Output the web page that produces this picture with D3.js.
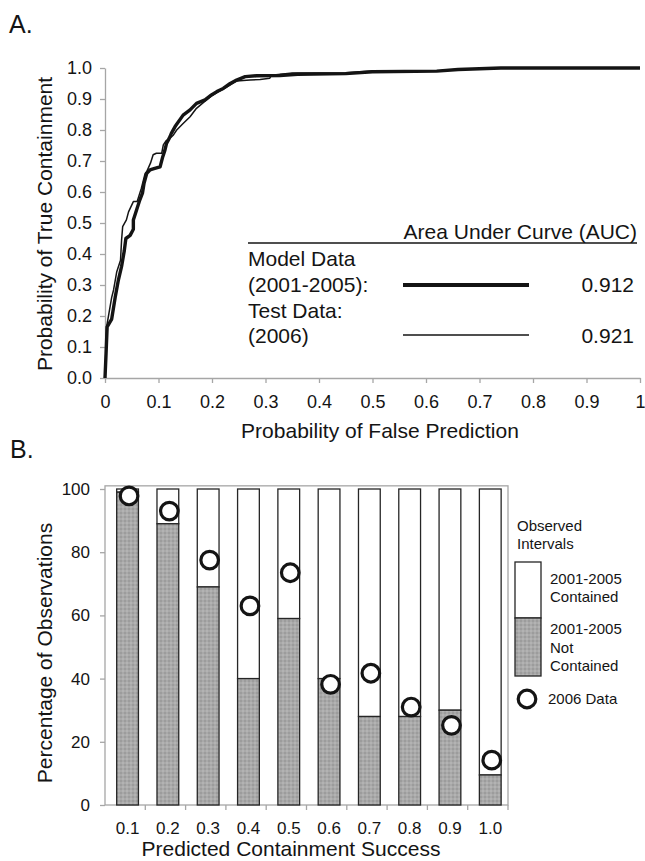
<!DOCTYPE html>
<html>
<head>
<meta charset="utf-8">
<script src="https://cdn.jsdelivr.net/npm/d3@7"></script>
<style>
  body { margin: 0; background: #fff; }
  svg { display: block; font-family: "Liberation Sans", Arial, sans-serif; }
</style>
</head>
<body>
<svg id="chart"></svg>
<script>
const width = 645;
const height = 861;

// Panel A: ROC curves, [probability of false prediction, probability of true containment]
const modelRoc = [
  [0, 0], [0.002, 0.08], [0.004, 0.165], [0.0125, 0.19], [0.019, 0.26], [0.025, 0.316],
  [0.031, 0.36], [0.036, 0.41], [0.039, 0.45], [0.047, 0.46], [0.053, 0.48], [0.053, 0.51],
  [0.059, 0.542], [0.065, 0.574], [0.07, 0.596], [0.073, 0.628], [0.078, 0.66], [0.084, 0.671],
  [0.093, 0.676], [0.103, 0.681], [0.108, 0.714], [0.112, 0.735], [0.115, 0.757], [0.12, 0.773],
  [0.124, 0.789], [0.131, 0.811], [0.146, 0.848], [0.159, 0.865], [0.171, 0.886], [0.187, 0.897],
  [0.199, 0.913], [0.209, 0.924], [0.221, 0.934], [0.234, 0.95], [0.246, 0.961], [0.262, 0.972],
  [0.283, 0.975], [0.327, 0.976], [0.36, 0.98], [0.45, 0.982], [0.5, 0.988], [0.62, 0.99],
  [0.66, 0.995], [0.74, 1], [1, 1]
];
const testRoc = [
  [0, 0], [0.003, 0.165], [0.0125, 0.26], [0.016, 0.284], [0.022, 0.343], [0.029, 0.38],
  [0.031, 0.445], [0.033, 0.488], [0.04, 0.51], [0.044, 0.536], [0.053, 0.569], [0.06, 0.569],
  [0.068, 0.612], [0.075, 0.66], [0.078, 0.666], [0.085, 0.693], [0.09, 0.72], [0.096, 0.725],
  [0.106, 0.725], [0.109, 0.752], [0.114, 0.765], [0.121, 0.773], [0.128, 0.784], [0.134, 0.8],
  [0.146, 0.821], [0.159, 0.843], [0.171, 0.87], [0.187, 0.893], [0.199, 0.91], [0.221, 0.932],
  [0.246, 0.958], [0.271, 0.961], [0.29, 0.963], [0.308, 0.967], [0.311, 0.977], [0.35, 0.984],
  [0.45, 0.985], [0.5, 0.99], [0.62, 0.99], [0.66, 0.996], [0.74, 1], [1, 1]
];
const aucValues = ["0.912", "0.921"];

// Panel B: percentage of observations per predicted containment class
const classes = ["0.1", "0.2", "0.3", "0.4", "0.5", "0.6", "0.7", "0.8", "0.9", "1.0"];
const notContained = [99, 89, 69, 40, 59, 40, 28, 28, 30, 9.5];
const obs2006 = [97.8, 93, 77.5, 63, 73.5, 38.2, 41.7, 31, 25.2, 14.2];

const axisGray = "#a6a6a6";
const ink = "#141414";

const svg = d3.select("#chart")
  .attr("width", width)
  .attr("height", height)
  .attr("viewBox", [0, 0, width, height]);

// gray stippled fill like the print
const defs = svg.append("defs");
const pat = defs.append("pattern")
  .attr("id", "stipple")
  .attr("width", 4).attr("height", 4)
  .attr("patternUnits", "userSpaceOnUse");
pat.append("rect").attr("width", 4).attr("height", 4).attr("fill", "#a9a9a9");
pat.append("rect").attr("x", 0).attr("y", 0).attr("width", 2).attr("height", 2).attr("fill", "#9c9c9c");
pat.append("rect").attr("x", 2).attr("y", 2).attr("width", 2).attr("height", 2).attr("fill", "#b3b3b3");

// ---------- Panel A ----------
const xA = d3.scaleLinear([0, 1], [105, 640]);
const yA = d3.scaleLinear([0, 1], [378, 68]);

svg.append("text").attr("x", 9).attr("y", 33)
  .attr("font-size", 25).attr("fill", ink).text("A.");

const gxA = svg.append("g")
  .attr("transform", `translate(0,${yA(0)})`)
  .call(d3.axisBottom(xA)
    .tickValues(d3.range(0, 11).map(d => d / 10))
    .tickFormat(d => (d === 0 || d === 1) ? d3.format("d")(d) : d3.format(".1f")(d))
    .tickSize(5).tickPadding(12).tickSizeOuter(0));

const gyA = svg.append("g")
  .attr("transform", `translate(${xA(0)},0)`)
  .call(d3.axisLeft(yA)
    .tickValues(d3.range(0, 11).map(d => d / 10))
    .tickFormat(d3.format(".1f"))
    .tickSize(5).tickPadding(8).tickSizeOuter(0));

[gxA, gyA].forEach(g => {
  g.select(".domain").attr("stroke", axisGray).attr("stroke-width", 1.3);
  g.selectAll(".tick line").attr("stroke", axisGray).attr("stroke-width", 1.3);
  g.selectAll(".tick text").attr("font-size", 18).attr("fill", ink)
    .attr("font-family", "Liberation Sans, Arial, sans-serif");
});

const line = d3.line().x(d => xA(d[0])).y(d => yA(d[1]));

svg.append("path").datum(testRoc)
  .attr("d", line).attr("fill", "none")
  .attr("stroke", ink).attr("stroke-width", 1.5).attr("stroke-linejoin", "round");

svg.append("path").datum(modelRoc)
  .attr("d", line).attr("fill", "none")
  .attr("stroke", ink).attr("stroke-width", 3.4).attr("stroke-linejoin", "round");

svg.append("text")
  .attr("x", 380).attr("y", 438)
  .attr("text-anchor", "middle").attr("font-size", 21).attr("fill", ink)
  .text("Probability of False Prediction");

svg.append("text")
  .attr("transform", "translate(52,224) rotate(-90)")
  .attr("text-anchor", "middle").attr("font-size", 21).attr("fill", ink)
  .text("Probability of True Containment");

// AUC legend table
const legA = svg.append("g").attr("font-size", 21).attr("fill", ink);
legA.append("text").attr("x", 637).attr("y", 239).attr("text-anchor", "end")
  .text("Area Under Curve (AUC)");
legA.append("line").attr("x1", 248).attr("x2", 637).attr("y1", 243).attr("y2", 243)
  .attr("stroke", ink).attr("stroke-width", 1.6);
legA.append("text").attr("x", 248).attr("y", 266).text("Model Data");
legA.append("text").attr("x", 248).attr("y", 292).text("(2001-2005):");
legA.append("text").attr("x", 248).attr("y", 318).text("Test Data:");
legA.append("text").attr("x", 248).attr("y", 343).text("(2006)");
legA.append("line").attr("x1", 403).attr("x2", 529).attr("y1", 285).attr("y2", 285)
  .attr("stroke", ink).attr("stroke-width", 4);
legA.append("line").attr("x1", 403).attr("x2", 529).attr("y1", 335).attr("y2", 335)
  .attr("stroke", ink).attr("stroke-width", 1.4);
legA.append("text").attr("x", 634).attr("y", 292).attr("text-anchor", "end").text(aucValues[0]);
legA.append("text").attr("x", 634).attr("y", 343).attr("text-anchor", "end").text(aucValues[1]);

// ---------- Panel B ----------
const plotL = 105, plotR = 508;
const xOuter = d3.scaleBand(classes, [plotL, plotR]);
const xB = d3.scaleBand(classes, [plotL, plotR])
  .paddingInner(0.46).paddingOuter(0.23).align(0.63);
const yB = d3.scaleLinear([0, 100], [805, 489]);

svg.append("text").attr("x", 10).attr("y", 458)
  .attr("font-size", 25).attr("fill", ink).text("B.");

// plot frame
svg.append("rect")
  .attr("x", plotL).attr("y", yB(101))
  .attr("width", plotR - plotL).attr("height", yB(0) - yB(101))
  .attr("fill", "none").attr("stroke", axisGray).attr("stroke-width", 1.3);

const gyB = svg.append("g")
  .attr("transform", `translate(${plotL},0)`)
  .call(d3.axisLeft(yB).tickValues([0, 20, 40, 60, 80, 100])
    .tickSize(5).tickPadding(10).tickSizeOuter(0));
gyB.select(".domain").remove();

// labels centred under bars, tick marks on the category boundaries
const gxB = svg.append("g")
  .attr("transform", `translate(0,${yB(0)})`)
  .call(d3.axisBottom(xB).tickSize(0).tickPadding(17).tickSizeOuter(0));
gxB.select(".domain").remove();

svg.append("g")
  .selectAll("line")
  .data(classes)
  .join("line")
  .attr("x1", d => xOuter(d) + xOuter.bandwidth())
  .attr("x2", d => xOuter(d) + xOuter.bandwidth())
  .attr("y1", yB(0)).attr("y2", yB(0) + 5)
  .attr("stroke", axisGray).attr("stroke-width", 1.3);

[gxB, gyB].forEach(g => {
  g.selectAll(".tick line").attr("stroke", axisGray).attr("stroke-width", 1.3);
  g.selectAll(".tick text").attr("font-size", 17).attr("fill", ink)
    .attr("font-family", "Liberation Sans, Arial, sans-serif");
});

const bars = svg.append("g").attr("stroke", "#262626").attr("stroke-width", 1.3);

bars.selectAll("rect.cont")
  .data(classes)
  .join("rect")
  .attr("class", "cont")
  .attr("x", d => xB(d)).attr("width", xB.bandwidth())
  .attr("y", yB(100))
  .attr("height", (d, i) => yB(notContained[i]) - yB(100))
  .attr("fill", "#fff");

bars.selectAll("rect.notc")
  .data(classes)
  .join("rect")
  .attr("class", "notc")
  .attr("x", d => xB(d)).attr("width", xB.bandwidth())
  .attr("y", (d, i) => yB(notContained[i]))
  .attr("height", (d, i) => yB(0) - yB(notContained[i]))
  .attr("fill", "url(#stipple)");

svg.append("g")
  .selectAll("circle")
  .data(classes)
  .join("circle")
  .attr("cx", d => xB(d) + xB.bandwidth() / 2 + 1.5)
  .attr("cy", (d, i) => yB(obs2006[i]))
  .attr("r", 8.8)
  .attr("fill", "#fff").attr("stroke", ink).attr("stroke-width", 3.2);

svg.append("text")
  .attr("x", 291).attr("y", 856)
  .attr("text-anchor", "middle").attr("font-size", 21).attr("fill", ink)
  .text("Predicted Containment Success");

svg.append("text")
  .attr("transform", "translate(52,653) rotate(-90)")
  .attr("text-anchor", "middle").attr("font-size", 21).attr("fill", ink)
  .text("Percentage of Observations");

// legend for panel B
const legB = svg.append("g").attr("font-size", 15).attr("fill", ink);
legB.append("text").attr("x", 517).attr("y", 531).text("Observed");
legB.append("text").attr("x", 517).attr("y", 549).text("Intervals");
legB.append("rect").attr("x", 515).attr("y", 562).attr("width", 26).attr("height", 56)
  .attr("fill", "#fff").attr("stroke", "#262626").attr("stroke-width", 1.3);
legB.append("rect").attr("x", 515).attr("y", 618).attr("width", 26).attr("height", 58)
  .attr("fill", "url(#stipple)").attr("stroke", "#262626").attr("stroke-width", 1.3);
legB.append("text").attr("x", 550).attr("y", 584).text("2001-2005");
legB.append("text").attr("x", 550).attr("y", 602).text("Contained");
legB.append("text").attr("x", 550).attr("y", 634).text("2001-2005");
legB.append("text").attr("x", 550).attr("y", 653).text("Not");
legB.append("text").attr("x", 550).attr("y", 671).text("Contained");
legB.append("circle").attr("cx", 527).attr("cy", 699).attr("r", 8.8)
  .attr("fill", "#fff").attr("stroke", ink).attr("stroke-width", 3.2);
legB.append("text").attr("x", 548).attr("y", 704).text("2006 Data");
</script>
</body>
</html>
